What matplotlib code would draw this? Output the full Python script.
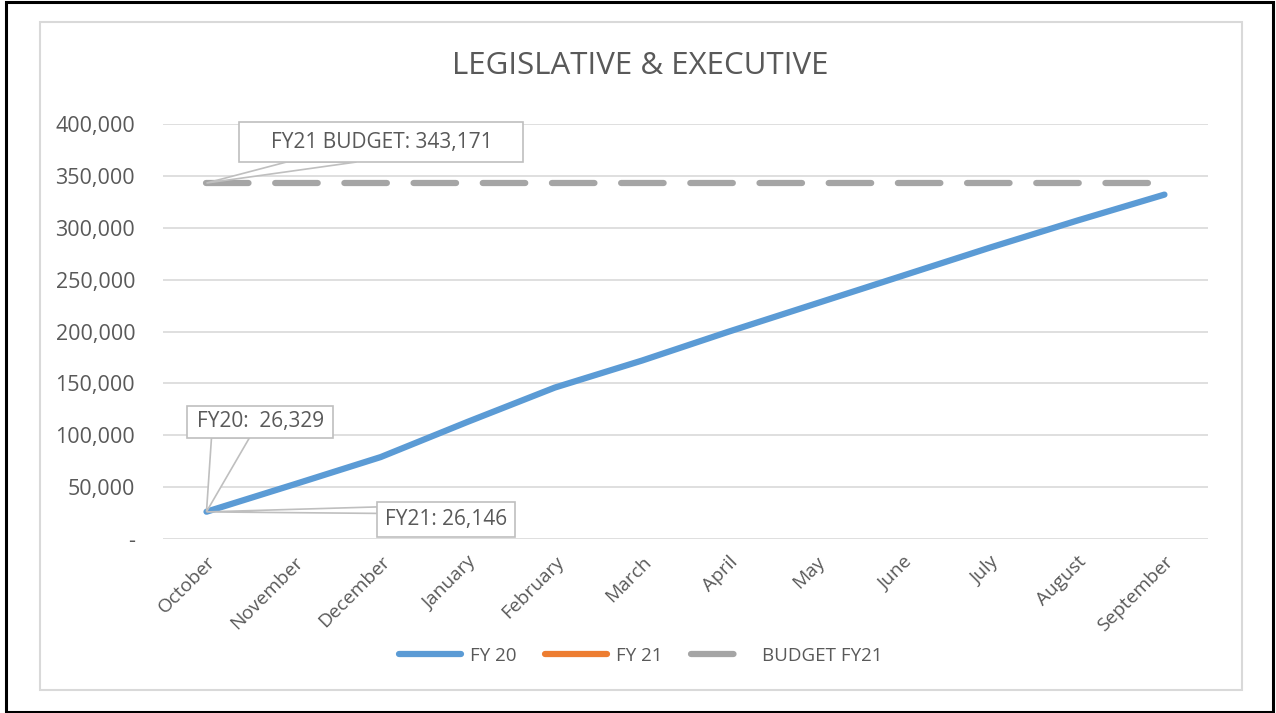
import matplotlib
matplotlib.use("Agg")
import matplotlib.pyplot as plt
from matplotlib.patches import Rectangle, Polygon
from matplotlib.ticker import FuncFormatter
from matplotlib.transforms import Affine2D
import numpy as np

months = ["October", "November", "December", "January", "February", "March",
          "April", "May", "June", "July", "August", "September"]
fy20 = [26329, 52500, 79000, 113000, 146000, 172000, 200000, 227000,
        254000, 281000, 307000, 332000]
fy21 = [26146] + [np.nan] * 11
budget = [343171] * 12

plt.rcParams['font.family'] = ['Open Sans', 'DejaVu Sans']
txt = '#595959'
edge = '#BFBFBF'

fig = plt.figure(figsize=(12.76, 7.13), dpi=100)
ax = fig.add_axes([0.1277, 0.244, 0.8190, 0.582])

x = np.arange(len(months))
ax.plot(x, fy20, color='#5B9BD5', lw=4.5, solid_capstyle='round', label='FY 20', zorder=3)
ax.plot(x, fy21, color='#ED7D31', lw=4.5, solid_capstyle='round', label='FY 21', zorder=3)
bl, = ax.plot(x, budget, color='#A5A5A5', lw=4.5, dash_capstyle='round', label='BUDGET FY21', zorder=2)
bl.set_dashes([6.8, 4.27])

ax.set_xlim(-0.5, 11.5)
ax.set_ylim(0, 400000)
ax.set_yticks(np.arange(0, 400001, 50000))
ax.yaxis.set_major_formatter(FuncFormatter(lambda v, p: '-' if v == 0 else f'{int(v):,}'))
ax.set_xticks(x)
ax.set_xticklabels(months, rotation=45, ha='right', rotation_mode='anchor')
ax.tick_params(axis='both', length=0, labelcolor=txt)
ax.tick_params(axis='y', pad=20, labelsize=15.5)
ax.tick_params(axis='x', pad=10, labelsize=13.8)
ax.grid(axis='y', color='#D9D9D9', lw=1.2)
ax.set_axisbelow(True)
for s in ax.spines.values():
    s.set_visible(False)

fig.text(0.5015, 0.907, 'LEGISLATIVE & EXECUTIVE', ha='center', va='center',
         fontsize=22.5, color=txt)


def callout(label, xi, yv, off, size, tip):
    # box + pointer drawn in pixel offsets from the data point
    px, py = ax.transData.transform((xi, yv))
    tr = Affine2D().translate(px, py)
    ax.add_patch(Polygon([(0, 0)] + tip, closed=True, fc='white', ec=edge, lw=1.2,
                         transform=tr, clip_on=False, zorder=5))
    w, h = size
    ax.add_patch(Rectangle((off[0] - w / 2, off[1] - h / 2), w, h, fc='white', ec=edge,
                           lw=1.2, transform=tr, clip_on=False, zorder=6))
    ax.annotate(label, xy=(xi, yv), xytext=off, textcoords='offset pixels',
                ha='center', va='center', fontsize=15, color=txt, zorder=7)


callout(f'FY21 BUDGET: {budget[0]:,}', 0, budget[0], (175, 41), (284, 40),
        [(80, 21), (150, 21)])
callout(f'FY20:  {fy20[0]:,}', 0, fy20[0], (54, 90), (146, 32),
        [(5, 74), (43, 74)])
callout(f'FY21: {fy21[0]:,}', 0, fy21[0], (240, -7.5), (138, 35),
        [(171, 5), (171, -1.5)])

fig.legend(loc='center', bbox_to_anchor=(0.502, 0.08), ncol=3, frameon=False,
           fontsize=13.5, labelcolor=txt, handlelength=3.3, columnspacing=1.5,
           handletextpad=0.5)

fig.patches.append(Rectangle((40 / 1276, 23 / 713), 1202 / 1276, 668 / 713,
                             transform=fig.transFigure, fill=False, ec='#D9D9D9', lw=1.5))
fig.patches.append(Rectangle((6 / 1276, 1.5 / 713), 1267 / 1276, 710 / 713,
                             transform=fig.transFigure, fill=False, ec='black', lw=2.2))

fig.savefig('out.png', dpi=100)
